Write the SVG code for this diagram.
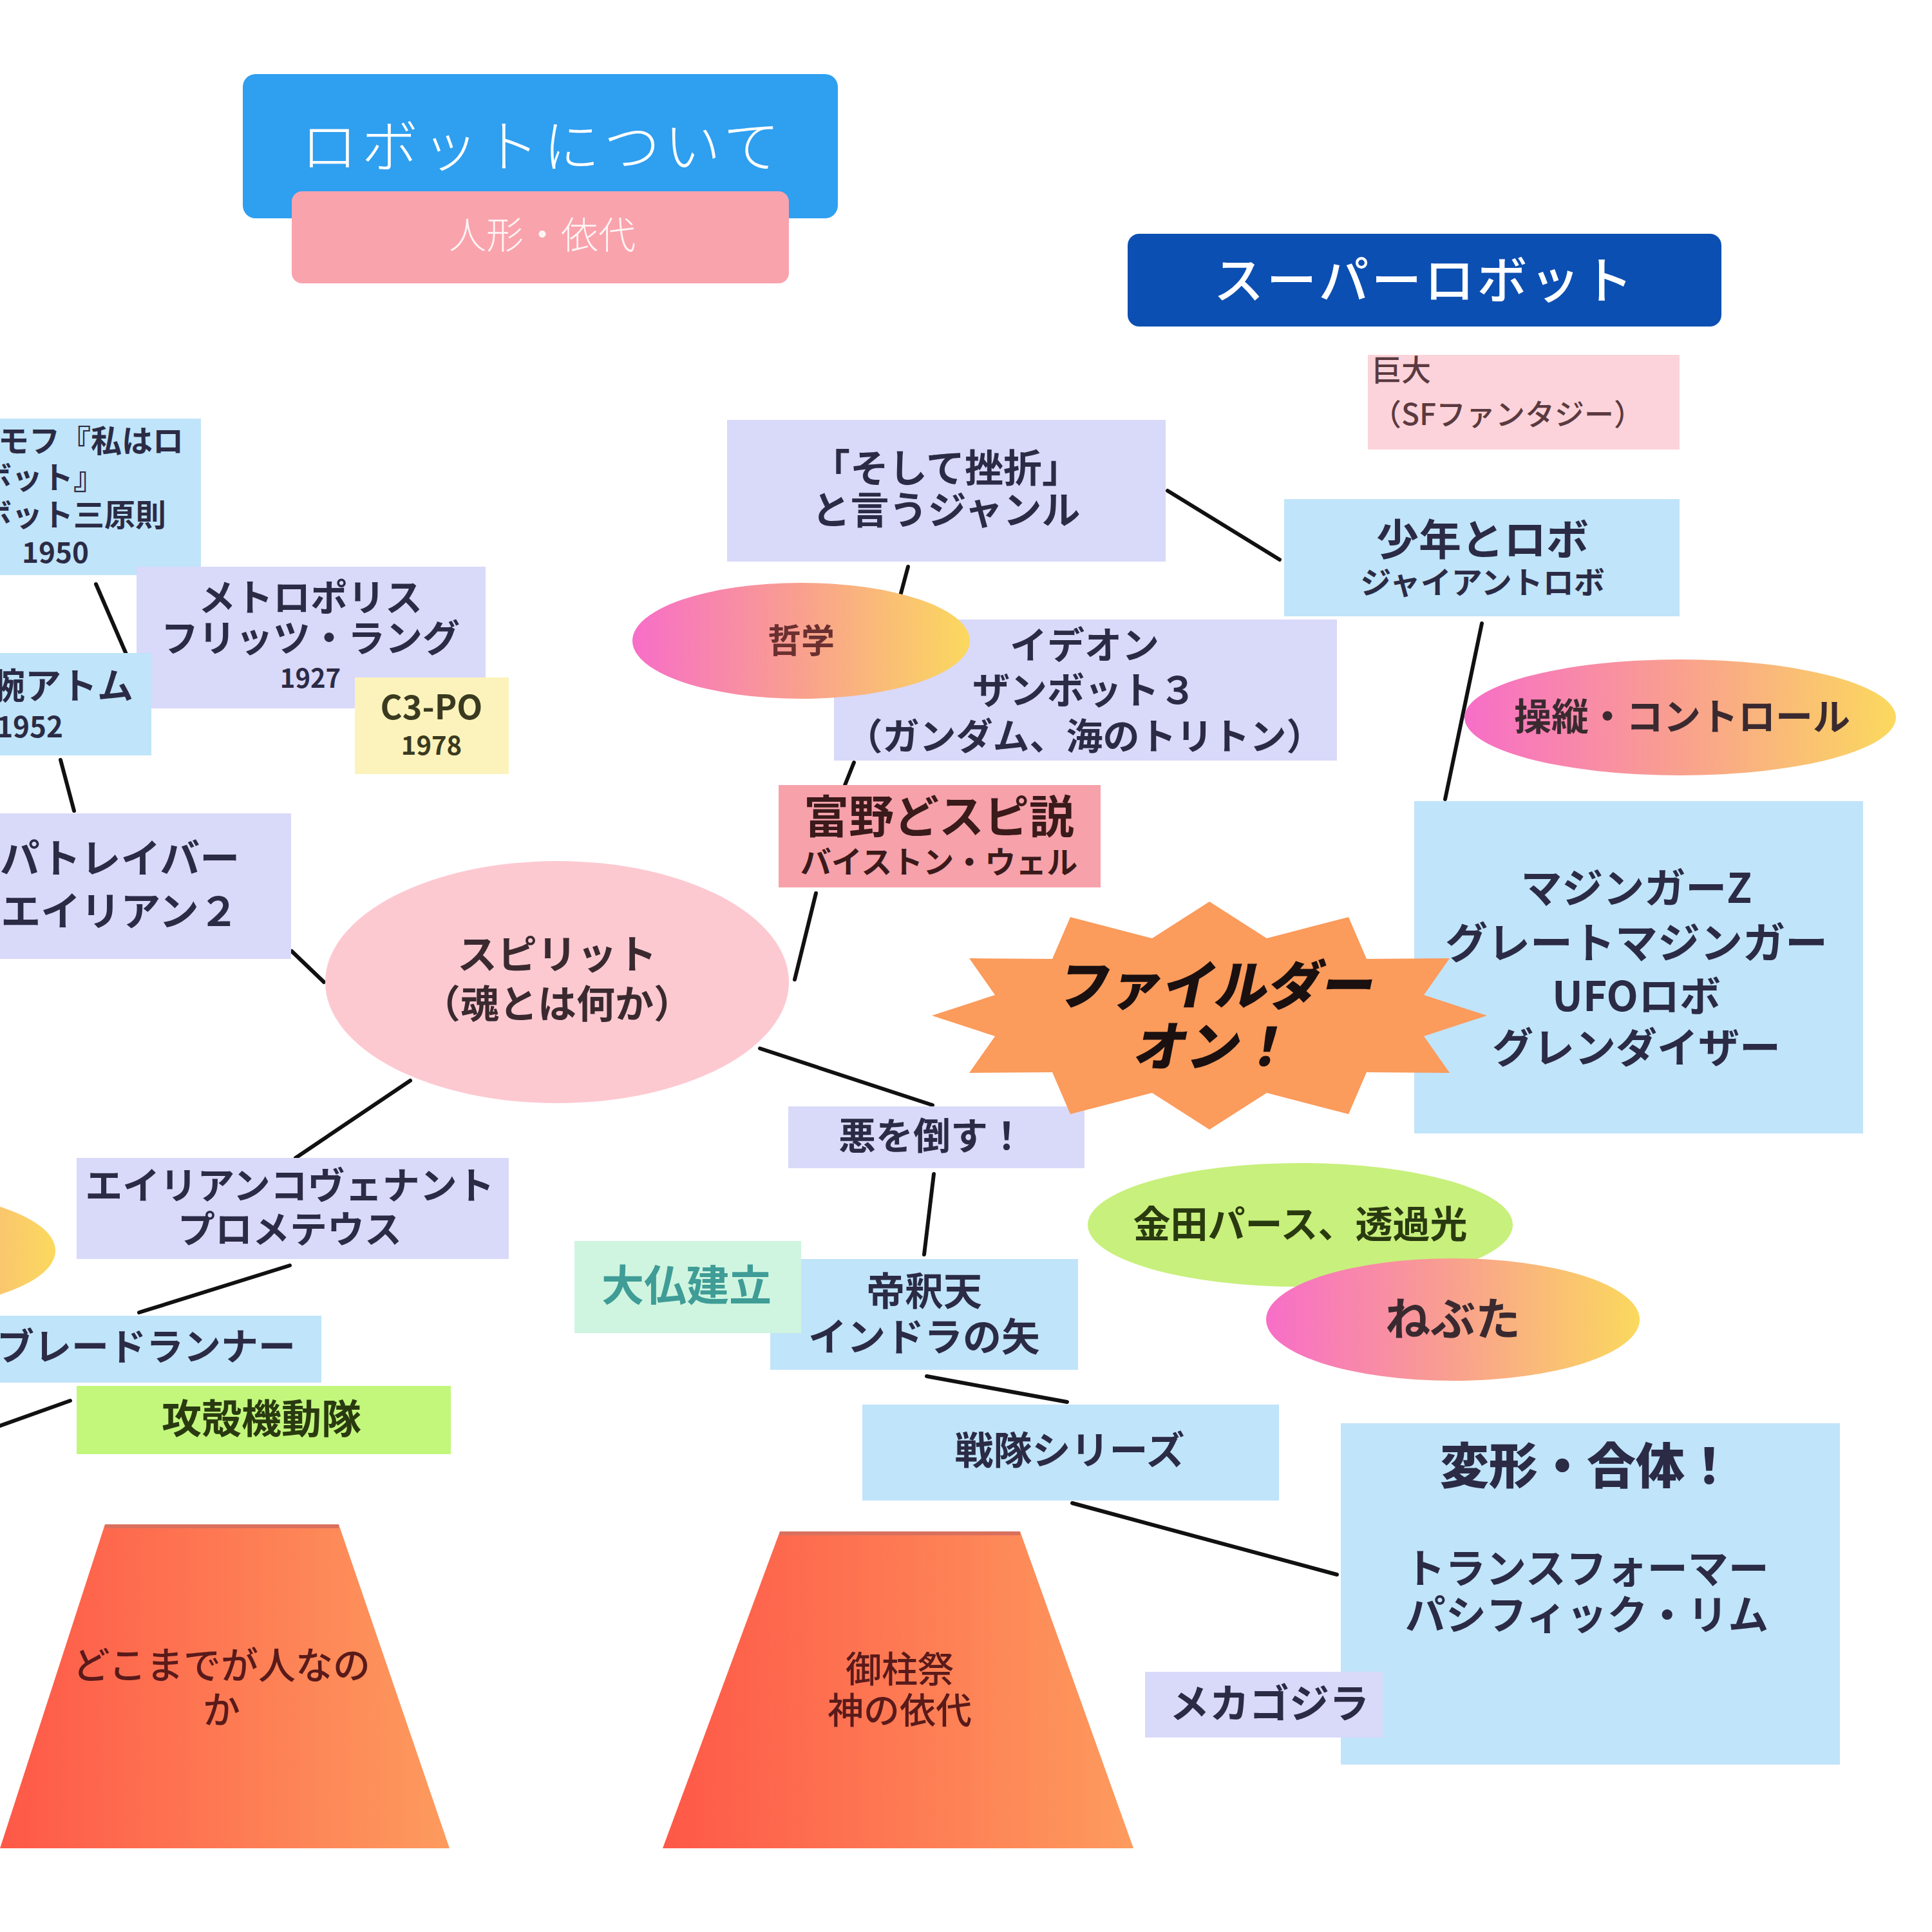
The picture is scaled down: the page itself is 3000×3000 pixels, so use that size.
<svg xmlns="http://www.w3.org/2000/svg" width="3000" height="3000" viewBox="0 0 3000 3000">
<defs>
<linearGradient id="gEll" x1="0" y1="0" x2="1" y2="0">
<stop offset="0" stop-color="#f76ec8"/><stop offset="0.5" stop-color="#f9a08e"/><stop offset="1" stop-color="#fbd95e"/>
</linearGradient>
<linearGradient id="gTrap" x1="0" y1="0" x2="1" y2="0">
<stop offset="0" stop-color="#fe5848"/><stop offset="1" stop-color="#fd9b5e"/>
</linearGradient>
<style>
text{font-family:"Noto Sans CJK JP","Noto Sans CJK SC",sans-serif;font-weight:700;fill:#2b2b45;text-anchor:middle}
.lav{fill:#d9d9fa}
.blu{fill:#c0e4fa}
.con line{stroke:#111;stroke-width:6;stroke-linecap:round}
.end{text-anchor:end}
.sta{text-anchor:start}
</style>
</defs>
<rect width="3000" height="3000" fill="#fff"/>

<g id="connectors" class="con">
<line x1="149" y1="907" x2="207" y2="1041"/>
<line x1="94" y1="1180" x2="115" y2="1259"/>
<line x1="453" y1="1477" x2="503" y2="1525"/>
<line x1="637" y1="1678" x2="459" y2="1798"/>
<line x1="450" y1="1965" x2="216" y2="2038"/>
<line x1="109" y1="2175" x2="0" y2="2214"/>
<line x1="1180" y1="1628" x2="1448" y2="1716"/>
<line x1="1267" y1="1387" x2="1234" y2="1521"/>
<line x1="1326" y1="1184" x2="1312" y2="1219"/>
<line x1="1410" y1="880" x2="1391" y2="951"/>
<line x1="1813" y1="762" x2="1987" y2="869"/>
<line x1="2301" y1="968" x2="2244" y2="1241"/>
<line x1="1450" y1="1823" x2="1435" y2="1948"/>
<line x1="1439" y1="2137" x2="1657" y2="2177"/>
<line x1="1665" y1="2334" x2="2076" y2="2445"/>
</g>

<g id="title">
<rect x="377" y="115" width="924" height="224" rx="20" fill="#2f9ff0"/>
<text x="842" y="259" font-size="88" style="font-weight:300;fill:#fff;letter-spacing:6px">ロボットについて</text>
</g>
<g id="subtitle">
<rect x="453" y="297" width="772" height="143" rx="16" fill="#f9a3ad"/>
<text x="842" y="386" font-size="58" style="font-weight:300;fill:#fff4f4">人形・依代</text>
</g>
<g id="superrobot">
<rect x="1751" y="363" width="922" height="144" rx="18" fill="#0c4fb2"/>
<text x="2212" y="464" font-size="78" style="font-weight:500;fill:#fff;letter-spacing:4px">スーパーロボット</text>
</g>
<g id="kyodai">
<rect x="2124" y="551" width="484" height="147" fill="#fcd3da"/>
<text class="sta" font-size="46" style="font-weight:500;fill:#5a3a40"><tspan x="2130" y="591">巨大</tspan><tspan x="2130" y="660">（SFファンタジー）</tspan></text>
</g>
<g id="shonen">
<rect class="blu" x="1994" y="775" width="614" height="182"/>
<text><tspan x="2302" y="862" font-size="66">少年とロボ</tspan><tspan x="2302" y="922" font-size="48">ジャイアントロボ</tspan></text>
</g>
<g id="soshite">
<rect class="lav" x="1129" y="652" width="681" height="220"/>
<text font-size="60"><tspan x="1469" y="749">「そして挫折」</tspan><tspan x="1469" y="814">と言うジャンル</tspan></text>
</g>
<g id="ideon">
<rect class="lav" x="1295" y="962" width="781" height="219"/>
<text font-size="58"><tspan x="1684" y="1023">イデオン</tspan><tspan x="1684" y="1093">ザンボット３</tspan><tspan x="1684" y="1164" font-size="57">（ガンダム、海のトリトン）</tspan></text>
</g>
<g id="tetsugaku">
<ellipse cx="1244" cy="995" rx="262" ry="90" fill="url(#gEll)"/>
<text x="1244" y="1014" font-size="52" style="fill:#6a3030">哲学</text>
</g>
<g id="tomino">
<rect x="1209" y="1219" width="500" height="159" fill="#f7a1aa"/>
<text style="fill:#3a1a1a"><tspan x="1458" y="1294" font-size="70">富野どスピ説</tspan><tspan x="1458" y="1356" font-size="48">バイストン・ウェル</tspan></text>
</g>
<g id="spirit">
<ellipse cx="865" cy="1525" rx="360" ry="188" fill="#fdc9d1"/>
<text style="fill:#3a2a30"><tspan x="865" y="1505" font-size="62">スピリット</tspan><tspan x="865" y="1581" font-size="60">（魂とは何か）</tspan></text>
</g>
<g id="patlabor">
<rect class="lav" x="-10" y="1263" width="462" height="226"/>
<text font-size="62"><tspan x="186" y="1356">パトレイバー</tspan><tspan x="186" y="1438">エイリアン２</tspan></text>
</g>
<g id="asimov">
<rect class="blu" x="-10" y="650" width="322" height="243"/>
<text class="end" font-size="48"><tspan x="285" y="702">モフ『私はロ</tspan><tspan x="162" y="759">ボット』</tspan><tspan x="258" y="817">ボット三原則</tspan></text>
<text x="86" y="874" font-size="44">1950</text>
</g>
<g id="metropolis">
<rect class="lav" x="212" y="880" width="542" height="220"/>
<text font-size="58"><tspan x="482" y="949">メトロポリス</tspan><tspan x="482" y="1012">フリッツ・ラング</tspan><tspan x="482" y="1068" font-size="40">1927</tspan></text>
</g>
<g id="atom">
<rect class="blu" x="-10" y="1014" width="245" height="159"/>
<text class="end"><tspan x="207" y="1085" font-size="56">腕アトム</tspan><tspan x="98" y="1145" font-size="44">1952</tspan></text>
</g>
<g id="c3po">
<rect x="551" y="1052" width="239" height="150" fill="#fbf3bb"/>
<text style="fill:#3a3a20"><tspan x="670" y="1117" font-size="52">C3-PO</tspan><tspan x="670" y="1172" font-size="40">1978</tspan></text>
</g>
<g id="alien">
<rect class="lav" x="119" y="1798" width="671" height="157"/>
<text font-size="58"><tspan x="450" y="1862">エイリアンコヴェナント</tspan><tspan x="450" y="1930">プロメテウス</tspan></text>
</g>
<g id="leftEllipse">
<ellipse cx="-176" cy="1942" rx="262" ry="92" fill="url(#gEll)"/>
</g>
<g id="bladerunner">
<rect class="blu" x="-10" y="2043" width="509" height="104"/>
<text class="end" x="459" y="2112" font-size="58">ブレードランナー</text>
</g>
<g id="kokaku">
<rect x="119" y="2152" width="581" height="106" fill="#c2f77c"/>
<text x="406" y="2226" font-size="62" style="fill:#2a3a10">攻殻機動隊</text>
</g>
<g id="aku">
<rect class="lav" x="1224" y="1718" width="460" height="96"/>
<text x="1447" y="1785" font-size="58">悪を倒す！</text>
</g>
<g id="taishaku">
<rect class="blu" x="1196" y="1955" width="478" height="172"/>
<text font-size="60"><tspan x="1435" y="2027">帝釈天</tspan><tspan x="1435" y="2098">インドラの矢</tspan></text>
</g>
<g id="daibutsu">
<rect x="892" y="1927" width="352" height="143" fill="#cff5e0"/>
<text x="1066" y="2020" font-size="66" style="fill:#3f9c96">大仏建立</text>
</g>
<g id="sentai">
<rect class="blu" x="1339" y="2181" width="647" height="149"/>
<text x="1661" y="2274" font-size="60">戦隊シリーズ</text>
</g>
<g id="henkei">
<rect class="blu" x="2082" y="2210" width="775" height="530"/>
<text x="2464" y="2304" font-size="76" style="font-weight:900">変形・合体！</text>
<text font-size="63"><tspan x="2464" y="2458">トランスフォーマー</tspan><tspan x="2464" y="2530">パシフィック・リム</tspan></text>
</g>
<g id="mechagodzilla">
<rect class="lav" x="1778" y="2596" width="369" height="102"/>
<text x="1971" y="2668" font-size="62">メカゴジラ</text>
</g>
<g id="trapLeft">
<polygon points="163,2367 526,2367 698,2870 0,2870" fill="url(#gTrap)"/>
<line x1="163" y1="2370" x2="526" y2="2370" stroke="#d9705e" stroke-width="6"/>
<text font-size="58" style="font-weight:500;fill:#5a1a1a"><tspan x="344" y="2607">どこまでが人なの</tspan><tspan x="344" y="2676">か</tspan></text>
</g>
<g id="trapMid">
<polygon points="1211,2378 1584,2378 1760,2870 1029,2870" fill="url(#gTrap)"/>
<line x1="1211" y1="2381" x2="1584" y2="2381" stroke="#d9705e" stroke-width="6"/>
<text font-size="56" style="font-weight:500;fill:#5a1a1a"><tspan x="1397" y="2612">御柱祭</tspan><tspan x="1397" y="2676">神の依代</tspan></text>
</g>
<g id="mazinger">
<rect class="blu" x="2196" y="1244" width="697" height="516"/>
</g>
<g id="filder">
<polygon points="2309,1577 2211,1545 2251,1488 2122,1489 2094,1424 1967,1457 1878,1400 1789,1457 1662,1424 1634,1489 1505,1488 1545,1545 1447,1577 1545,1609 1505,1666 1634,1665 1662,1730 1789,1697 1878,1754 1967,1697 2094,1730 2122,1665 2251,1666 2211,1609" fill="#fb9b5c"/>
<text transform="skewX(-12)" font-size="82" style="font-weight:900;fill:#1a1010"><tspan x="2215" y="1560">ファイルダー</tspan><tspan x="2232" y="1655">オン！</tspan></text>
</g>
<g id="mazingerText">
<text font-size="64"><tspan x="2541" y="1402">マジンガーZ</tspan><tspan x="2541" y="1488" font-size="66">グレートマジンガー</tspan><tspan x="2541" y="1570">UFOロボ</tspan><tspan x="2541" y="1650">グレンダイザー</tspan></text>
</g>
<g id="soju">
<ellipse cx="2609" cy="1114" rx="335" ry="90" fill="url(#gEll)"/>
<text x="2612" y="1134" font-size="58" style="fill:#3a2a30">操縦・コントロール</text>
</g>
<g id="kaneda">
<ellipse cx="2019" cy="1902" rx="330" ry="96" fill="#c8f07c"/>
<text x="2019" y="1922" font-size="58" style="fill:#2a3a10">金田パース、透過光</text>
</g>
<g id="nebuta">
<ellipse cx="2256" cy="2049" rx="290" ry="95" fill="url(#gEll)"/>
<text x="2256" y="2074" font-size="70" style="fill:#3a2a30">ねぶた</text>
</g>
</svg>
